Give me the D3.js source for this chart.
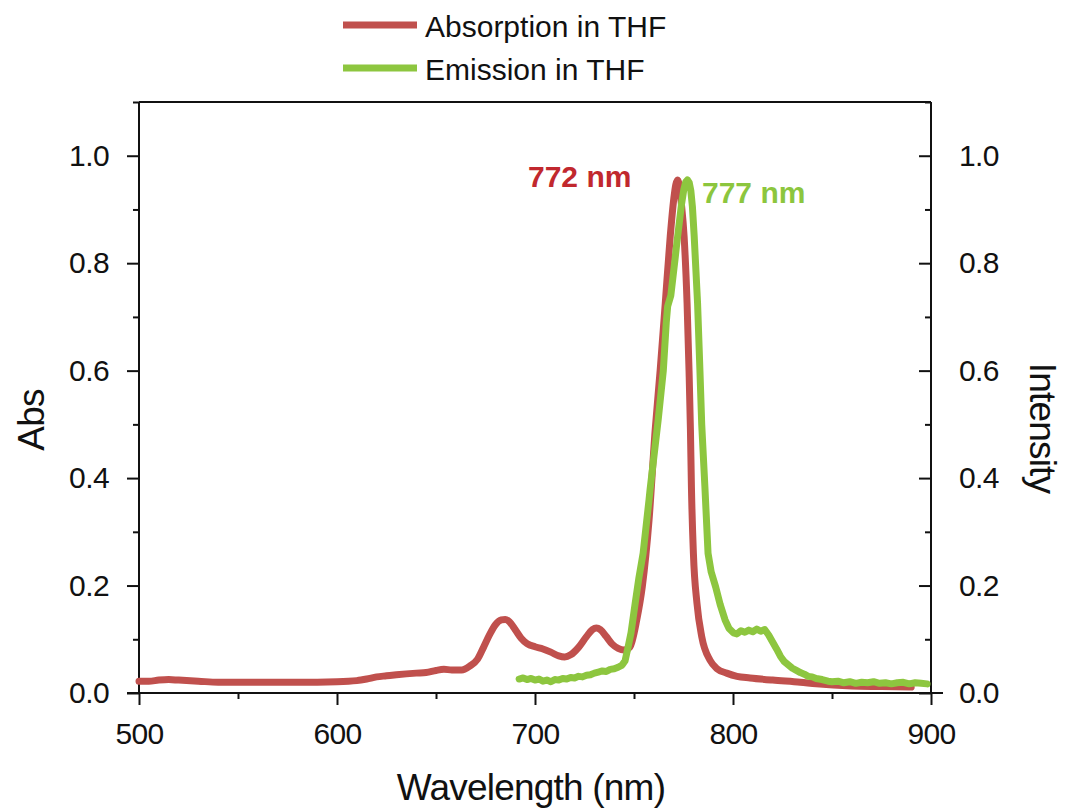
<!DOCTYPE html>
<html>
<head>
<meta charset="utf-8">
<script src="https://cdn.jsdelivr.net/npm/d3@7/dist/d3.min.js"></script>
<style>
  html, body { margin: 0; padding: 0; background: #fff; }
  svg { display: block; font-family: "Liberation Sans", Arial, Helvetica, sans-serif; }
</style>
</head>
<body>
<svg id="chart" width="1065" height="812"></svg>
<script>
// Absorption spectrum in THF (wavelength in nm, absorbance)
const absorptionWavelength = [
  500, 505, 510, 515, 520, 530, 540, 560, 580, 600, 610, 615, 620, 625, 630, 640, 645,
  650, 654, 658, 663, 667, 671, 674, 677, 680, 683, 685, 687, 690, 693, 696, 700, 704,
  708, 712, 715, 718, 722, 726, 729, 731, 733, 736, 739, 742, 745, 748, 751.4, 754.2,
  757.6, 760.7, 763.2, 765.8, 768.3, 770.1, 771.1, 772, 772.9, 773.8, 775.3, 776.8,
  777.8, 778.5, 779.0, 780.0, 781.8, 784.2, 788.4, 792, 796.8, 802, 808.6, 820, 834,
  842, 860, 875, 890
];
const absorptionValue = [
  0.022, 0.022, 0.024, 0.025, 0.024, 0.022, 0.020, 0.020, 0.020, 0.021, 0.023, 0.026,
  0.030, 0.032, 0.034, 0.037, 0.038, 0.042, 0.044, 0.043, 0.043, 0.050, 0.063, 0.085,
  0.108, 0.127, 0.136, 0.137, 0.133, 0.118, 0.102, 0.092, 0.086, 0.082, 0.076, 0.069,
  0.067, 0.071, 0.085, 0.105, 0.118, 0.121, 0.118, 0.105, 0.091, 0.083, 0.080, 0.086,
  0.136, 0.198, 0.322, 0.490, 0.600, 0.726, 0.850, 0.920, 0.946, 0.955, 0.945, 0.915,
  0.850, 0.726, 0.600, 0.490, 0.384, 0.260, 0.167, 0.105, 0.061, 0.045, 0.037, 0.031,
  0.028, 0.024, 0.020, 0.017, 0.013, 0.012, 0.011
];

// Emission spectrum in THF (wavelength in nm, normalised intensity)
const emissionWavelength = [
  692, 694, 696, 698, 700, 702, 704, 706, 708, 710, 712, 714, 716, 718, 720, 722, 724,
  726, 728, 730, 732, 734, 736, 738, 740, 742, 744, 745.5, 747, 748.5, 750.6, 752.5,
  754.6, 757.6, 758.1, 762.2, 764.8, 766.3, 767.0, 768.6, 770.8, 771.4, 774.0, 775.2,
  776.1, 777.0, 777.9, 778.7, 779.5, 780.4, 782.1, 783.3, 784.2, 785.8, 787.4, 789, 791.2,
  793.5, 796, 798, 800.2, 802, 804, 806, 808, 810, 812, 814, 816, 818, 820, 822, 824, 826,
  828, 830, 832, 834, 836, 838, 840, 842, 845, 848, 850, 853, 856, 859, 862, 865, 868,
  871, 874, 877, 880, 883, 886, 889, 892, 895, 898
];
const emissionValue = [
  0.026, 0.028, 0.025, 0.027, 0.024, 0.026, 0.022, 0.024, 0.021, 0.025, 0.024, 0.027,
  0.026, 0.029, 0.028, 0.031, 0.030, 0.033, 0.034, 0.037, 0.039, 0.041, 0.040, 0.044,
  0.045, 0.048, 0.052, 0.060, 0.085, 0.112, 0.167, 0.215, 0.260, 0.360, 0.378, 0.508,
  0.600, 0.690, 0.720, 0.740, 0.810, 0.830, 0.910, 0.938, 0.951, 0.955, 0.950, 0.935,
  0.905, 0.850, 0.726, 0.600, 0.500, 0.384, 0.260, 0.225, 0.198, 0.165, 0.136, 0.120,
  0.112, 0.110, 0.116, 0.113, 0.117, 0.114, 0.119, 0.115, 0.118, 0.108, 0.095, 0.082,
  0.068, 0.058, 0.052, 0.046, 0.042, 0.038, 0.035, 0.031, 0.030, 0.027, 0.025, 0.022,
  0.021, 0.022, 0.019, 0.021, 0.018, 0.020, 0.019, 0.021, 0.018, 0.019, 0.017, 0.019,
  0.020, 0.017, 0.019, 0.018, 0.017
];

// Peak annotations
const peakLabels = ["772 nm", "777 nm"];
const peakWavelengths = [772, 777];

// Axis ticks
const xMajorTicks = [500, 600, 700, 800, 900];
const xMinorTicks = [550, 650, 750, 850];
const yMajorTicks = [0, 0.2, 0.4, 0.6, 0.8, 1.0];
const yMinorTicks = [0.1, 0.3, 0.5, 0.7, 0.9, 1.1];

const seriesNames = ["Absorption in THF", "Emission in THF"];
const seriesColors = ["#c0504d", "#8dc63f"];
const labelColors = ["#c1282e", "#8cc63e"];

const svg = d3.select("#chart");
const plot = { left: 139, right: 931, top: 102, bottom: 693 };

const x = d3.scaleLinear().domain([500, 900]).range([plot.left, plot.right]);
const yAbs = d3.scaleLinear().domain([0, 1.1]).range([plot.bottom, plot.top]);
const yInt = d3.scaleLinear().domain([0, 1.1]).range([plot.bottom, plot.top]);

const axisColor = "#111";
const tickFont = 30;
const fmt = d3.format(".1f");

function styleAxis(g) {
  g.select(".domain").remove();
  g.selectAll(".tick line").attr("stroke", axisColor).attr("stroke-width", 2);
  g.selectAll(".tick text")
    .attr("fill", axisColor)
    .style("font-size", tickFont + "px")
    .style("letter-spacing", "-0.6px");
}

// Left axis: outward ticks
svg.append("g").attr("transform", `translate(${plot.left},0)`)
  .call(d3.axisLeft(yAbs).tickValues(yMinorTicks).tickSize(6).tickFormat(""))
  .call(styleAxis);
svg.append("g").attr("transform", `translate(${plot.left},0)`)
  .call(d3.axisLeft(yAbs).tickValues(yMajorTicks).tickSize(12).tickPadding(18).tickFormat(fmt))
  .call(styleAxis);

// Right axis: inward ticks
svg.append("g").attr("transform", `translate(${plot.right},0)`)
  .call(d3.axisRight(yInt).tickValues(yMinorTicks).tickSizeInner(-6).tickSizeOuter(0).tickFormat(""))
  .call(styleAxis);
svg.append("g").attr("transform", `translate(${plot.right},0)`)
  .call(d3.axisRight(yInt).tickValues(yMajorTicks).tickSizeInner(-12).tickSizeOuter(0).tickPadding(28).tickFormat(fmt))
  .call(styleAxis);

// Bottom axis: outward ticks
svg.append("g").attr("transform", `translate(0,${plot.bottom})`)
  .call(d3.axisBottom(x).tickValues(xMinorTicks).tickSize(6).tickFormat(""))
  .call(styleAxis);
svg.append("g").attr("transform", `translate(0,${plot.bottom})`)
  .call(d3.axisBottom(x).tickValues(xMajorTicks).tickSize(12).tickPadding(18).tickFormat(d3.format("d")))
  .call(styleAxis);

// Frame
const frame = svg.append("g").attr("stroke", axisColor).attr("stroke-width", 2).attr("fill", "none");
frame.append("line").attr("x1", plot.left).attr("x2", plot.left).attr("y1", plot.top).attr("y2", plot.bottom);
frame.append("line").attr("x1", plot.right).attr("x2", plot.right).attr("y1", plot.top).attr("y2", plot.bottom);
frame.append("line").attr("x1", plot.left).attr("x2", plot.right).attr("y1", plot.top).attr("y2", plot.top);
frame.append("line").attr("x1", plot.left - 12).attr("x2", plot.right + 12).attr("y1", plot.bottom).attr("y2", plot.bottom);

// Spectra
const absData = absorptionWavelength.map((w, i) => [w, absorptionValue[i]]);
const emData = emissionWavelength.map((w, i) => [w, emissionValue[i]]);

svg.append("path")
  .datum(absData)
  .attr("fill", "none")
  .attr("stroke", seriesColors[0])
  .attr("stroke-width", 7)
  .attr("stroke-linejoin", "round")
  .attr("stroke-linecap", "round")
  .attr("d", d3.line().x(d => x(d[0])).y(d => yAbs(d[1])).curve(d3.curveMonotoneX));

svg.append("path")
  .datum(emData)
  .attr("fill", "none")
  .attr("stroke", seriesColors[1])
  .attr("stroke-width", 7)
  .attr("stroke-linejoin", "round")
  .attr("stroke-linecap", "round")
  .attr("d", d3.line().x(d => x(d[0])).y(d => yInt(d[1])).curve(d3.curveLinear));

// Peak labels
svg.append("text")
  .attr("x", 528).attr("y", 187)
  .attr("fill", labelColors[0])
  .style("font-size", "30px").style("font-weight", "bold")
  .text(peakLabels[0]);
svg.append("text")
  .attr("x", 702).attr("y", 203)
  .attr("fill", labelColors[1])
  .style("font-size", "30px").style("font-weight", "bold")
  .text(peakLabels[1]);

// Axis titles
svg.append("text")
  .attr("x", (plot.left + plot.right) / 2 - 4).attr("y", 800)
  .attr("text-anchor", "middle")
  .attr("fill", axisColor)
  .style("font-size", "37px").style("letter-spacing", "-0.8px")
  .text("Wavelength (nm)");
svg.append("text")
  .attr("transform", "translate(44,420) rotate(-90)")
  .attr("text-anchor", "middle")
  .attr("fill", axisColor)
  .style("font-size", "37px").style("letter-spacing", "-0.8px")
  .text("Abs");
svg.append("text")
  .attr("transform", "translate(1030,428) rotate(90)")
  .attr("text-anchor", "middle")
  .attr("fill", axisColor)
  .style("font-size", "37px").style("letter-spacing", "-0.8px")
  .text("Intensity");

// Legend
const legend = svg.append("g");
seriesNames.forEach((name, i) => {
  const ly = 25 + i * 43;
  legend.append("line")
    .attr("x1", 343).attr("x2", 417).attr("y1", ly).attr("y2", ly)
    .attr("stroke", seriesColors[i]).attr("stroke-width", 7);
  legend.append("text")
    .attr("x", 425).attr("y", ly + 12)
    .attr("fill", axisColor)
    .style("font-size", "30px")
    .text(name);
});
</script>
</body>
</html>
